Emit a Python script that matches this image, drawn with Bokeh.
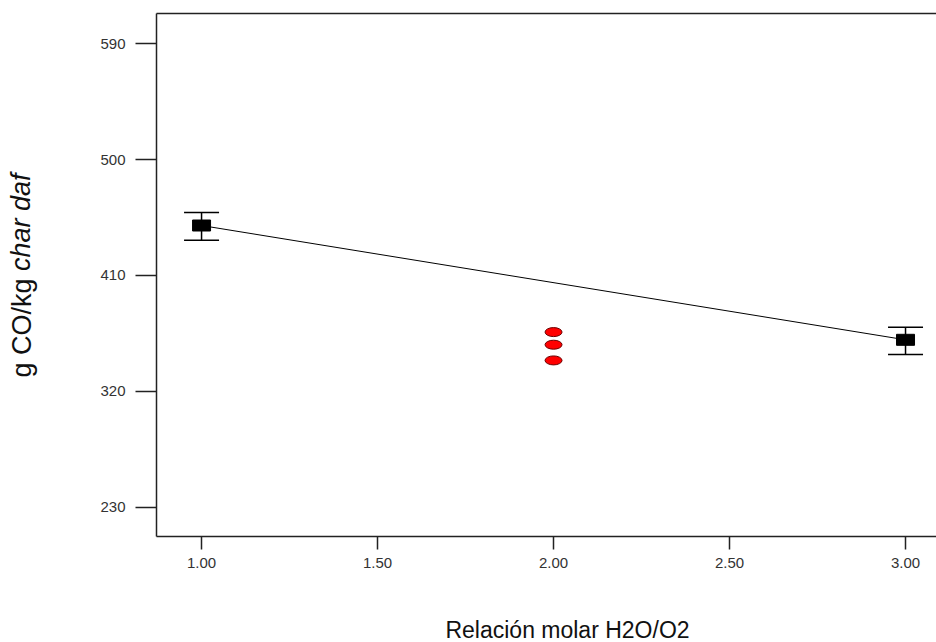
import math
from bokeh.plotting import figure
from bokeh.models import (Range1d, FixedTicker, Whisker, TeeHead, ColumnDataSource,
                          Label, LinearAxis, NumeralTickFormatter)
from bokeh.embed import file_html
from bokeh.resources import INLINE

# ---- data ----
ratio_design = [1.0, 3.0]
co_mean = [448.8, 360.0]
co_upper = [458.9, 369.8]
co_lower = [437.4, 348.6]

ratio_center = [2.0, 2.0, 2.0]
co_center = [366.0, 356.2, 344.0]

fit_x = [1.0, 3.0]
fit_y = [448.8, 360.0]

x_ticks = [1.0, 1.5, 2.0, 2.5, 3.0]
y_ticks = [230, 320, 410, 500, 590]

x_label = "Relación molar H2O/O2"
y_label_plain = "g CO/kg"
y_label_italic = "char daf"

FONT = "Liberation Sans"
AX = "#222222"

p = figure(width=936, height=642,
           x_range=Range1d(0.872, 3.088), y_range=Range1d(207.2, 613.5),
           output_backend="svg", toolbar_location=None,
           min_border_left=156, min_border_right=0,
           min_border_top=13, min_border_bottom=106)
p.grid.visible = False
p.outline_line_color = None
p.background_fill_color = "white"
p.border_fill_color = "white"

# x axis
p.xaxis.ticker = FixedTicker(ticks=x_ticks)
p.xaxis.formatter = NumeralTickFormatter(format="0.00")
p.xaxis.major_tick_out = 13
p.xaxis.major_tick_in = 0
p.xaxis.major_label_standoff = 8
# y axis
p.yaxis.ticker = FixedTicker(ticks=y_ticks)
p.yaxis.major_tick_out = 21
p.yaxis.major_tick_in = 0
p.yaxis.major_label_standoff = 10

for ax in (p.xaxis, p.yaxis):
    ax.minor_tick_line_color = None
    ax.axis_line_color = AX
    ax.axis_line_width = 1.5
    ax.major_tick_line_color = AX
    ax.major_tick_line_width = 1.5
    ax.major_label_text_font = FONT
    ax.major_label_text_font_size = "15px"
    ax.major_label_text_color = "#333333"

# top frame line
top = LinearAxis(ticker=FixedTicker(ticks=[]), major_tick_line_color=None,
                 minor_tick_line_color=None, major_label_text_font_size="0px",
                 major_tick_out=0, major_tick_in=0, major_label_standoff=0,
                 axis_line_color=AX, axis_line_width=1.5)
p.add_layout(top, "above")

# fitted line
p.line(fit_x, fit_y, line_color="black", line_width=1)

# error bars
src = ColumnDataSource(dict(x=ratio_design, upper=co_upper, lower=co_lower))
wh = Whisker(base="x", upper="upper", lower="lower", source=src,
             line_color="black", line_width=1.5,
             upper_head=TeeHead(size=35, line_color="black", line_width=1.5),
             lower_head=TeeHead(size=35, line_color="black", line_width=1.5))
p.add_layout(wh)

# design-point means
p.rect(x=ratio_design, y=co_mean, width=18, height=11,
       width_units="screen", height_units="screen",
       fill_color="black", line_color="black")

# center points
p.ellipse(x=ratio_center, y=co_center, width=17, height=9,
          width_units="screen", height_units="screen",
          fill_color="#ff0000", line_color="#6b0000", line_width=1)

# axis titles (in side panels so they are not clipped to the frame)
p.add_layout(Label(x=411, y=-33, x_units="screen", y_units="screen",
                   text=x_label, text_align="center", text_baseline="alphabetic",
                   text_font=FONT, text_font_size="23px", text_color="#111111"), "below")
p.add_layout(Label(x=-46, y=159, x_units="screen", y_units="screen",
                   text=y_label_plain, angle=math.pi / 2, text_align="left",
                   text_baseline="middle",
                   text_font=FONT, text_font_size="27px", text_color="#111111"), "left")
p.add_layout(Label(x=-17, y=363, x_units="screen", y_units="screen",
                   text=y_label_italic, angle=math.pi / 2, text_align="right",
                   text_baseline="middle", text_font_style="italic",
                   text_font=FONT, text_font_size="27px", text_color="#111111"), "left")

open("out.html", "w").write(file_html(p, INLINE))
